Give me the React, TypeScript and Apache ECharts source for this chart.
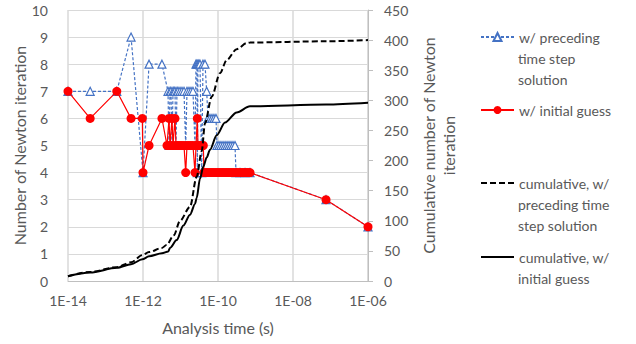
import React, { useEffect, useRef } from "react";
import * as echarts from "echarts";

// ---- data ----
const precedingTimes = [
  1e-14, 3.9e-14, 2.0e-13, 4.8e-13, 1.0e-12, 1.45e-12, 3.2e-12, 4.64e-12, 4.94e-12, 5.25e-12,
  5.58e-12, 5.93e-12, 6.31e-12, 6.71e-12, 7.13e-12, 7.59e-12, 8.06e-12, 8.58e-12, 9.7e-12, 1.096e-11,
  1.24e-11, 1.376e-11, 1.49e-11, 1.685e-11, 1.905e-11, 2.15e-11, 2.435e-11, 2.59e-11, 2.75e-11, 2.81e-11,
  2.93e-11, 3.11e-11, 3.31e-11, 3.67e-11, 3.98e-11, 4.5e-11, 4.99e-11, 5.41e-11, 6.12e-11, 6.92e-11,
  7.82e-11, 8.84e-11, 9.4e-11, 1.063e-10, 1.2e-10, 1.36e-10, 1.54e-10, 1.74e-10, 1.965e-10, 2.22e-10,
  2.51e-10, 2.84e-10, 3.02e-10, 3.86e-10, 5.25e-10, 7.13e-10, 7.59e-8, 1e-6,
];
const precedingIters = [
  7, 7, 7, 9, 4, 8, 8, 7, 5, 7,
  7, 5, 7, 7, 7, 5, 7, 7, 7, 7,
  7, 5, 7, 7, 7, 7, 5, 8, 8, 4,
  8, 8, 8, 4, 8, 8, 7, 6, 6, 6,
  6, 6, 5, 5, 5, 5, 5, 5, 5, 5,
  5, 5, 4, 4, 4, 4, 3, 2,
];

const initialTimes = [
  1e-14, 3.9e-14, 2.0e-13, 4.8e-13, 9.6e-13, 1.0e-12, 1.45e-12, 3.2e-12, 4.37e-12, 4.94e-12,
  5.25e-12, 5.93e-12, 6.31e-12, 7.13e-12, 7.59e-12, 8.58e-12, 9.7e-12, 1.096e-11, 1.24e-11, 1.376e-11,
  1.49e-11, 1.685e-11, 1.905e-11, 2.15e-11, 2.435e-11, 2.59e-11, 2.81e-11, 2.93e-11, 3.31e-11, 3.74e-11,
  4.06e-11, 4.23e-11, 4.79e-11, 5.41e-11, 6.12e-11, 6.92e-11, 7.82e-11, 8.84e-11, 1e-10, 1.13e-10,
  1.28e-10, 1.445e-10, 1.635e-10, 1.85e-10, 2.09e-10, 2.36e-10, 2.67e-10, 3.02e-10, 3.41e-10, 3.86e-10,
  4.37e-10, 4.94e-10, 5.58e-10, 6.31e-10, 7.13e-10, 7.59e-8, 1e-6,
];
const initialIters = [
  7, 6, 7, 6, 6, 4, 5, 6, 5, 6,
  5, 6, 5, 6, 5, 5, 5, 5, 5, 4,
  5, 5, 5, 5, 4, 5, 6, 5, 5, 5,
  5, 4, 4, 4, 4, 4, 4, 4, 4, 4,
  4, 4, 4, 4, 4, 4, 4, 4, 4, 4,
  4, 4, 4, 4, 4, 3, 2,
];

const cumPrecedingTimes = [
  1e-14, 3.9e-14, 2.0e-13, 4.8e-13, 9.6e-13, 1.45e-12, 3.2e-12, 4.3e-12, 6.63e-12, 9.7e-12,
  1.79e-11, 2.7e-11, 3.67e-11, 4.5e-11, 6.79e-11, 1.13e-10, 1.71e-10, 3.15e-10, 5.82e-10, 7.13e-10,
  7.59e-8, 1e-6,
];
const cumPrecedingValues = [
  8, 15, 23, 31, 43, 48, 55, 60, 76, 100,
  123, 173, 215, 262, 306, 345, 367, 385, 395, 396,
  398, 400,
];

const cumInitialTimes = [
  1e-14, 3.9e-14, 2.0e-13, 4.8e-13, 9.6e-13, 1.45e-12, 3.2e-12, 4.73e-12, 5.25e-12, 7.92e-12,
  1.19e-11, 1.79e-11, 2.435e-11, 2.7e-11, 3.31e-11, 4.06e-11, 4.99e-11, 6.12e-11, 9.23e-11, 1.54e-10,
  3.15e-10, 7.13e-10, 7.59e-8, 1e-6,
];
const cumInitialValues = [
  8, 14, 22, 28, 36, 41, 46, 49, 55, 68,
  92, 110, 128, 138, 170, 190, 205, 218, 242, 263,
  280, 290, 293, 296,
];

const seriesNames = [
  "w/ preceding time step solution",
  "w/ initial guess",
  "cumulative, w/ preceding time step solution",
  "cumulative, w/ initial guess",
];
const legendLines = [
  ["w/ preceding", "time step", "solution"],
  ["w/ initial guess"],
  ["cumulative, w/", "preceding time", "step solution"],
  ["cumulative, w/", "initial guess"],
];
const legendFirstLineY = [37, 110, 183, 257];

const xMin = 1e-14;
const xMax = 1e-6;
const leftMax = 10;
const rightMax = 450;

const FONT = 'Lato, "Noto Sans", sans-serif';
const TEXT = "#595959";

const zip = (a: number[], b: number[]) => a.map((t, i) => [t, b[i]]);

export default function App() {
  const ref = useRef<HTMLDivElement>(null);
  useEffect(() => {
    if (!ref.current) return;
    const chart = echarts.init(ref.current, undefined, { renderer: "svg" });

    // minor log grid lines (2..9 x 10^n, plus odd decades)
    const minorLines: { xAxis: number }[] = [];
    for (let e = -14; e < -6; e++) {
      for (let k = 1; k <= 9; k++) {
        if (k === 1 && e % 2 === 0) continue;
        minorLines.push({ xAxis: k * Math.pow(10, e) });
      }
    }

    const lineH = 21;
    const legendLeft = 480;
    const iconW = 33;
    const textX = legendLeft + iconW + 5;
    const legends = legendLines.map((lines, i) => {
      const noSymbol = i >= 2;
      return {
        data: [seriesNames[i]],
        left: legendLeft,
        top: legendFirstLineY[i] - lineH / 2,
        orient: "vertical",
        padding: 0,
        itemWidth: iconW,
        itemHeight: 10,
        selectedMode: false,
        formatter: () => lines[0],
        ...(noSymbol ? { itemStyle: { opacity: 0 } } : {}),
        textStyle: {
          fontFamily: FONT,
          fontSize: 14,
          color: TEXT,
          lineHeight: lineH,
        },
      };
    });
    const legendExtra: any[] = [];
    legendLines.forEach((lines, i) => {
      lines.slice(1).forEach((txt, k) => {
        legendExtra.push({
          type: "text",
          x: textX,
          y: legendFirstLineY[i] + (k + 1) * lineH,
          silent: true,
          style: {
            text: txt,
            fill: TEXT,
            fontFamily: FONT,
            fontSize: 14,
            textVerticalAlign: "middle",
            verticalAlign: "middle",
            align: "left",
          },
        });
      });
    });

    const option: any = {
      animation: false,
      textStyle: { fontFamily: FONT },
      grid: { left: 68, right: 268, top: 10, bottom: 63, containLabel: false },
      legend: legends,
      graphic: legendExtra,
      xAxis: {
        type: "log",
        logBase: 10,
        min: xMin,
        max: xMax,
        interval: 2,
        name: "Analysis time (s)",
        nameLocation: "middle",
        nameGap: 38,
        nameTextStyle: { fontSize: 16, color: TEXT, fontFamily: FONT },
        axisLine: { show: true, lineStyle: { color: "#bfbfbf", width: 1 } },
        axisTick: { show: false },
        axisLabel: {
          color: TEXT,
          fontSize: 14,
          margin: 12,
          fontFamily: FONT,
          formatter: (v: number) => {
            const e = Math.round(Math.log10(v));
            return "1E" + (e < 0 ? "-" : "+") + String(Math.abs(e)).padStart(2, "0");
          },
        },
        splitLine: { show: true, lineStyle: { color: "#d9d9d9", width: 1.5 } },
      },
      yAxis: [
        {
          type: "value",
          min: 0,
          max: leftMax,
          interval: 1,
          name: "Number of Newton iteration",
          nameLocation: "middle",
          nameRotate: 90,
          nameGap: 32,
          nameTextStyle: { fontSize: 16, color: TEXT, fontFamily: FONT },
          axisLine: { show: false },
          axisTick: { show: false },
          axisLabel: { color: TEXT, fontSize: 14, margin: 20, fontFamily: FONT },
          splitLine: { show: true, lineStyle: { color: "#d9d9d9", width: 1 } },
        },
        {
          type: "value",
          position: "right",
          min: 0,
          max: rightMax,
          interval: 50,
          name: "Cumulative number of Newton\niteration",
          nameLocation: "middle",
          nameRotate: 90,
          nameGap: 50,
          nameTextStyle: { fontSize: 16, color: TEXT, fontFamily: FONT, lineHeight: 20 },
          axisLine: { show: true, lineStyle: { color: "#bfbfbf", width: 1 } },
          axisTick: { show: true, length: 5, lineStyle: { color: "#bfbfbf" } },
          axisLabel: { color: TEXT, fontSize: 14, margin: 16, fontFamily: FONT },
          splitLine: { show: false },
        },
      ],
      series: [
        {
          name: "minor-grid",
          type: "line",
          data: [],
          silent: true,
          z: 1,
          markLine: {
            silent: true,
            symbol: ["none", "none"],
            label: { show: false },
            emphasis: { disabled: true },
            lineStyle: { color: "#ececec", width: 1, type: "solid" },
            data: minorLines,
          },
        },
        {
          name: seriesNames[0],
          type: "line",
          data: zip(precedingTimes, precedingIters),
          symbol: "triangle",
          symbolSize: 8,
          z: 3,
          itemStyle: { color: "#ffffff", borderColor: "#4472C4", borderWidth: 1.2 },
          lineStyle: { color: "#4472C4", width: 1.2, type: [3, 2] },
        },
        {
          name: seriesNames[1],
          type: "line",
          data: zip(initialTimes, initialIters),
          symbol: "circle",
          symbolSize: 9,
          z: 4,
          itemStyle: { color: "#ff0000", borderColor: "#ff0000", borderWidth: 0 },
          lineStyle: { color: "#ff0000", width: 1.2 },
        },
        {
          name: seriesNames[2],
          type: "line",
          yAxisIndex: 1,
          data: zip(cumPrecedingTimes, cumPrecedingValues),
          symbol: "none",
          smooth: 0.3,
          smoothMonotone: "x",
          z: 5,
          itemStyle: { color: "#000000" },
          lineStyle: { color: "#000000", width: 2, type: [6, 3] },
        },
        {
          name: seriesNames[3],
          type: "line",
          yAxisIndex: 1,
          data: zip(cumInitialTimes, cumInitialValues),
          symbol: "none",
          smooth: 0.3,
          smoothMonotone: "x",
          z: 5,
          itemStyle: { color: "#000000" },
          lineStyle: { color: "#000000", width: 2 },
        },
      ],
    };
    chart.setOption(option);
    return () => chart.dispose();
  }, []);
  return (
    <div
      ref={ref}
      style={{ position: "absolute", left: 0, top: 0, width: 636, height: 344, background: "#fff" }}
    />
  );
}
